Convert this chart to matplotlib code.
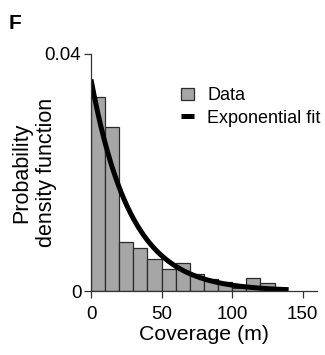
import numpy as np
import matplotlib.pyplot as plt

plt.rcParams['font.family'] = ['Liberation Sans', 'DejaVu Sans']

# bordes de los bins (m) y densidad de cada bin
bin_edges = [0, 10, 20, 30, 40, 50, 60, 70, 80, 90, 100, 110, 120, 130]
densidad = [0.0327, 0.0276, 0.0082, 0.0072, 0.0054, 0.0038, 0.0048,
            0.0029, 0.0021, 0.0015, 0.0005, 0.0022, 0.0014]

# ajuste exponencial: f(x) = lam * exp(-lam * x)
lam = 0.0357
x_max_ajuste = 140

fig = plt.figure(figsize=(3.25, 3.55), dpi=100)
ax = fig.add_axes([0.28, 0.18, 0.695, 0.668])

barras = ax.bar(bin_edges[:-1], densidad, width=np.diff(bin_edges), align='edge',
                color='#a6a6a6', edgecolor='#2b2b2b', linewidth=0.9)

x = np.linspace(0, x_max_ajuste, 300)
linea, = ax.plot(x, lam * np.exp(-lam * x), color='black', linewidth=3.6,
                 solid_capstyle='butt')

ax.set_xlim(0, 160)
ax.set_ylim(0, 0.04)
ax.set_xticks([0, 50, 100, 150])
ax.set_yticks([0, 0.04])
ax.set_yticklabels(['0', '0.04'])
ax.tick_params(labelsize=13.5, length=5, width=0.9, color='#333333', pad=2)
ax.tick_params(axis='x', pad=5.5)
for s in ['top', 'right']:
    ax.spines[s].set_visible(False)
for s in ['left', 'bottom']:
    ax.spines[s].set_linewidth(0.9)
    ax.spines[s].set_color('#333333')

ax.set_xlabel('Coverage (m)', fontsize=15.3, labelpad=1.5)
ax.set_ylabel('Probability\ndensity function', fontsize=15.5, linespacing=1.25)
ax.yaxis.set_label_coords(-0.15, 0.5)

ax.legend([barras, linea], ['Data', 'Exponential fit'], loc='upper left',
          bbox_to_anchor=(0.398, 0.86), frameon=False, fontsize=13,
          handlelength=0.7, handletextpad=0.75, labelspacing=0.3,
          borderaxespad=0, borderpad=0)

fig.text(0.025, 0.96, 'F', fontsize=15, fontweight='bold', va='top')

fig.savefig('out.png', dpi=100)
